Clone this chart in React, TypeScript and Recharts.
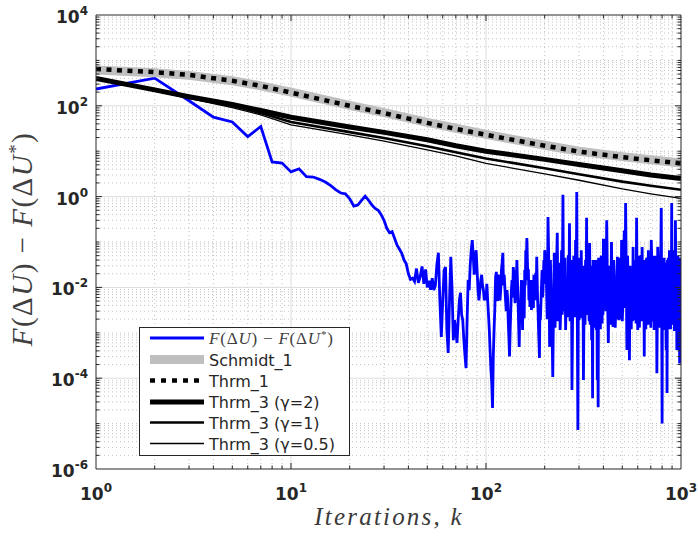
import React from 'react';
import { LineChart, Line, XAxis, YAxis, CartesianGrid, ReferenceLine } from 'recharts';

// ---------- categories / tick labels ----------
const xTicks = [1, 10, 100, 1000];
const yTicks = [1e-6, 1e-4, 1e-2, 1, 1e2, 1e4];
const legendLabels = ['F(ΔU) − F(ΔU*)', 'Schmidt_1', 'Thrm_1', 'Thrm_3 (γ=2)', 'Thrm_3 (γ=1)', 'Thrm_3 (γ=0.5)'];

// ---------- smooth bound curves ----------
const smoothK = [1, 2, 3, 5, 7, 10, 20, 30, 50, 70, 100, 200, 300, 500, 700, 1000];
const schmidt1 = [617, 537, 468, 355, 275, 200, 102, 71, 43, 32, 23.4, 13.5, 10, 7.6, 6.5, 5.5];
const thrm1 = [646, 550, 479, 355, 275, 195, 100, 69, 42, 31, 23, 13.2, 9.8, 7.4, 6.3, 5.4];
const thrm3g2 = [398, 224, 158, 107, 79, 56, 34, 26, 17.8, 13.2, 10, 6.6, 5.1, 3.7, 3.0, 2.5];
const thrm3g1 = [398, 219, 151, 100, 69, 44, 26.3, 19.5, 12.9, 9.5, 6.9, 4.2, 3.1, 2.14, 1.74, 1.41];
const thrm3g05 = [398, 214, 145, 91, 63, 38, 23, 16.6, 10.7, 7.9, 5.4, 3.16, 2.29, 1.48, 1.15, 0.91];

// ---------- F(ΔU) − F(ΔU*) (blue) ----------
// k = 1..56
const blueEarly = [
  234, 407, 129, 56, 44, 21, 35, 5.8, 5.5, 3.5,
  4.1, 2.75, 2.7, 2.4, 2.1, 1.74, 1.41, 1.2, 1.15, 0.89,
  0.62, 0.65, 0.83, 1.02, 0.83, 0.65, 0.55, 0.5, 0.4, 0.3,
  0.2, 0.16, 0.17, 0.12, 0.085, 0.069, 0.056, 0.04, 0.033, 0.02,
  0.015, 0.016, 0.0135, 0.026, 0.0126, 0.0174, 0.029, 0.012, 0.025, 0.01,
  0.014, 0.0089, 0.016, 0.0087, 0.011, 0.032,
];
// k = 57..100 step 1
const blueSegA = [
  0.058, 0.0052, 0.00081, 0.0052, 0.024, 0.028, 0.00115, 0.00036, 0.0052, 0.047,
  0.0087, 0.00069, 0.0019, 0.00115, 0.0006, 0.0019, 0.0052, 0.0076, 0.0025, 0.0019,
  0.00069, 0.00032, 0.000166, 0.0019, 0.0145, 0.0087, 0.031, 0.066, 0.11, 0.051,
  0.019, 0.04, 0.066, 0.024, 0.0087, 0.0052, 0.0087, 0.0145, 0.019, 0.011,
  0.0087, 0.0052, 0.0068, 0.0052,
];
// k = 102..200 step 2
const blueSegB = [
  0.0052, 0.00115, 0.000151, 2.2e-5, 0.00115, 0.017, 0.0087, 0.0145, 0.0052, 0.024,
  0.058, 0.019, 0.0052, 0.0087, 0.0019, 0.0003, 0.0032, 0.0145, 0.028, 0.0087,
  0.024, 0.04, 0.0052, 0.00049, 0.0019, 0.0145, 0.00115, 0.0052, 0.024, 0.066,
  0.123, 0.0145, 0.0052, 0.0037, 0.0145, 0.0046, 0.0087, 0.019, 0.0052, 0.021,
  0.047, 0.0052, 0.00115, 0.00028, 0.0019, 0.0076, 0.024, 0.0087, 0.04, 0.066,
];
// k = 101..199 step 2
const blueSegB2 = [
  0.012, 0.0025, 0.0004, 0.00008, 0.0003, 0.0035, 0.022, 0.005, 0.019, 0.009,
  0.035, 0.011, 0.0095, 0.003, 0.006, 0.0008, 0.0011, 0.009, 0.006, 0.018,
  0.0045, 0.012, 0.014, 0.0015, 0.0032, 0.0055, 0.0048, 0.014, 0.0021, 0.011,
  0.03, 0.04, 0.025, 0.012, 0.0075, 0.0032, 0.013, 0.0035, 0.0065, 0.011,
  0.0065, 0.015, 0.0028, 0.0006, 0.0042, 0.0035, 0.014, 0.006, 0.017, 0.012,
];
// k = 204..400 step 4
const blueSegC = [
  0.0145, 0.355, 0.00049, 0.0052, 0.000107, 0.058, 0.0087, 0.16, 0.0052, 0.00115,
  0.066, 1.1, 0.0052, 0.00115, 0.0145, 0.051, 0.26, 0.0052, 5.5e-5, 0.0052,
  0.0145, 0.11, 1.26, 7.2e-6, 0.0019, 0.024, 0.066, 0.0052, 9.1e-5, 0.0087,
  0.04, 0.34, 0.0028, 0.0145, 0.095, 0.0052, 0.00069, 3.6e-5, 0.0052, 0.04,
  0.0087, 0.00115, 9.1e-5, 2.3e-5, 0.0019, 0.0087, 0.024, 0.0032, 0.04, 0.11,
];
// k = 206..398 step 4
const blueSegC2 = [
  0.002, 0.03, 0.04, 0.0015, 0.004, 0.0013, 0.03, 0.0018, 0.035, 0.004,
  0.0025, 0.003, 0.045, 0.006, 0.0022, 0.006, 0.0018, 0.04, 0.002, 0.05,
  0.0022, 0.004, 0.0015, 0.035, 0.045, 0.003, 0.0021, 0.03, 0.0021, 0.0015,
  0.003, 0.0025, 0.05, 0.0018, 0.0015, 0.03, 0.02, 0.04, 0.0013, 0.0025,
  0.04, 0.03, 0.0035, 0.045, 0.035, 0.0012, 0.05, 0.0016, 0.0025,
];
// k = 408..1000 step 8
const blueSegD = [
  0.11, 0.3, 0.0006, 0.0087, 0.1, 0.00135, 0.0145, 0.0052, 0.047, 0.0019,
  0.0037, 0.11, 0.0052, 0.18, 0.72, 0.00042, 0.0145, 0.00025, 0.0032, 0.024,
  0.078, 0.0019, 0.04, 0.34, 0.00115, 0.024, 0.0052, 0.051, 0.078, 0.0032,
  0.0003, 0.0087, 0.04, 0.0019, 0.066, 0.0052, 0.024, 0.11, 0.0019, 0.0145,
  0.00115, 0.04, 0.0032, 0.000129, 0.078, 0.0052, 0.04, 0.0019, 0.56, 1.0e-5,
  0.0052, 0.04, 0.00115, 0.0145, 0.00042, 4.7e-5, 0.0087, 0.0019, 0.066, 0.0052,
  0.04, 0.72, 0.0145, 0.0019, 0.066, 0.0087, 0.3, 0.0032, 0.00042, 0.0145,
  0.00115, 0.04, 0.00021, 0.0052, 0.021,
];
// k = 412..996 step 8
const blueSegD2 = [
  0.003, 0.006, 0.03, 0.0015, 0.004, 0.04, 0.0013, 0.002, 0.03, 0.045,
  0.002, 0.0018, 0.045, 0.0035, 0.02, 0.05, 0.002, 0.03, 0.0012, 0.0018,
  0.004, 0.035, 0.0016, 0.006, 0.05, 0.0013, 0.045, 0.0018, 0.0025, 0.04,
  0.035, 0.0012, 0.045, 0.0015, 0.0016, 0.0028, 0.0013, 0.04, 0.0018, 0.05,
  0.0021, 0.045, 0.05, 0.0022, 0.035, 0.0013, 0.03, 0.05, 0.004, 0.04,
  0.0012, 0.045, 0.035, 0.0025, 0.03, 0.04, 0.045, 0.0012, 0.0015, 0.0012,
  0.0025, 0.0035, 0.045, 0.0015, 0.0011, 0.0025, 0.05, 0.035, 0.04, 0.05,
  0.0013, 0.035, 0.045, 0.0012,
];

// ---------- helpers ----------
const range = (a: number, b: number, s: number) => {
  const r: number[] = [];
  for (let v = a; v <= b; v += s) r.push(v);
  return r;
};
const zip = (ks: number[], vs: number[]) =>
  ks.slice(0, Math.min(ks.length, vs.length)).map((k, i) => ({ k, v: vs[i] }));

const blueData = [
  ...zip(range(1, 56, 1), blueEarly),
  ...zip(range(57, 100, 1), blueSegA),
  ...zip(range(102, 200, 2), blueSegB),
  ...zip(range(101, 199, 2), blueSegB2),
  ...zip(range(204, 400, 4), blueSegC),
  ...zip(range(206, 398, 4), blueSegC2),
  ...zip(range(408, 1000, 8), blueSegD),
  ...zip(range(412, 996, 8), blueSegD2),
].sort((a, b) => a.k - b.k);
const schmidtData = zip(smoothK, schmidt1);
const thrm1Data = zip(smoothK, thrm1);
const g2Data = zip(smoothK, thrm3g2);
const g1Data = zip(smoothK, thrm3g1);
const g05Data = zip(smoothK, thrm3g05);

// grid positions
const xMinor: number[] = [];
[1, 10, 100].forEach((d) => { for (let m = 2; m <= 9; m++) xMinor.push(d * m); });
const xMajor = [10, 100];
const yMajor = [1e-4, 1e-2, 1, 1e2];
const yMinor: number[] = [];
for (let e = -6; e <= 3; e++) {
  for (let m = 1; m <= 9; m++) {
    if (m === 1 && e % 2 === 0) continue;
    yMinor.push(Number((m * Math.pow(10, e)).toPrecision(2)));
  }
}

const AX = '#262626';
const TICKFONT = "'DejaVu Sans', sans-serif";
const SERIF = "'Liberation Serif', 'Times New Roman', Times, serif";

const XTick = (props: any) => {
  const { x, y, payload } = props;
  const e = Math.round(Math.log10(payload.value));
  return (
    <text x={x} y={y + 31} textAnchor="middle" fontFamily={TICKFONT} fontWeight="bold" fontSize={17} fill={AX}>
      10<tspan dy={-8} fontSize={12}>{e}</tspan>
    </text>
  );
};
const YTick = (props: any) => {
  const { x, y, payload } = props;
  const e = Math.round(Math.log10(payload.value));
  return (
    <text x={x} y={y + 8} textAnchor="end" fontFamily={TICKFONT} fontWeight="bold" fontSize={17} fill={AX}>
      10<tspan dy={-8} fontSize={12}>{e}</tspan>
    </text>
  );
};

// inward tick marks (lengths in px converted to decades)
const PXX = 195; // px per decade x
const PXY = 45.4; // px per decade y
const tickSegsX = (vals: number[], len: number) =>
  vals.flatMap((v) => [
    [{ x: v, y: 1e-6 }, { x: v, y: 1e-6 * Math.pow(10, len / PXY) }],
    [{ x: v, y: 1e4 }, { x: v, y: 1e4 / Math.pow(10, len / PXY) }],
  ]);
const tickSegsY = (vals: number[], len: number) =>
  vals.flatMap((v) => [
    [{ x: 1, y: v }, { x: Math.pow(10, len / PXX), y: v }],
    [{ x: 1000, y: v }, { x: 1000 / Math.pow(10, len / PXX), y: v }],
  ]);
const tickSegs = [
  ...tickSegsX(xMajor, 6),
  ...tickSegsX(xMinor, 3.5),
  ...tickSegsY(yMajor, 6),
  ...tickSegsY(yMinor, 3.5),
];

const MathLabel = ({ star }: { star: number }) => (
  <>
    <tspan fontStyle="italic">F</tspan>
    <tspan>(Δ</tspan>
    <tspan fontStyle="italic">U</tspan>
    <tspan>) − </tspan>
    <tspan fontStyle="italic">F</tspan>
    <tspan>(Δ</tspan>
    <tspan fontStyle="italic">U</tspan>
    <tspan dy={-star} fontSize="65%">*</tspan>
    <tspan dy={star}>)</tspan>
  </>
);

const legendRows = [338, 359.5, 380.5, 402, 422.5, 443.5];

export default function App() {
  return (
    <div style={{ position: 'relative', width: 698, height: 540, background: '#fff' }}>
      <style>{`body{margin:0;background:#fff}`}</style>
      <LineChart width={698} height={540} margin={{ top: 15, right: 17, left: 6, bottom: 31 }}>
        <CartesianGrid stroke="#c2c2c2" strokeDasharray="1 3" verticalValues={xMinor} horizontalValues={yMinor} />
        <CartesianGrid stroke="#dcdcdc" verticalValues={xMajor} horizontalValues={yMajor} />
        <XAxis
          type="number"
          dataKey="k"
          scale="log"
          domain={[1, 1000]}
          ticks={xTicks}
          interval={0}
          allowDataOverflow
          height={40}
          tickSize={0}
          tickMargin={0}
          tickLine={false}
          axisLine={{ stroke: AX }}
          tick={<XTick />}
        />
        <YAxis
          type="number"
          dataKey="v"
          scale="log"
          domain={[1e-6, 1e4]}
          ticks={yTicks}
          interval={0}
          allowDataOverflow
          width={90}
          tickSize={0}
          tickMargin={8}
          tickLine={false}
          axisLine={{ stroke: AX }}
          tick={<YTick />}
        />
        <Line data={blueData} dataKey="v" type="linear" stroke="#0000ff" strokeWidth={2.8} dot={false} isAnimationActive={false} />
        <Line data={schmidtData} dataKey="v" type="linear" stroke="#bfbfbf" strokeWidth={9} dot={false} isAnimationActive={false} />
        <Line data={thrm1Data} dataKey="v" type="linear" stroke="#000" strokeWidth={4.5} strokeDasharray="5 5.5" dot={false} isAnimationActive={false} />
        <Line data={g2Data} dataKey="v" type="linear" stroke="#000" strokeWidth={5} dot={false} isAnimationActive={false} />
        <Line data={g1Data} dataKey="v" type="linear" stroke="#000" strokeWidth={2.6} dot={false} isAnimationActive={false} />
        <Line data={g05Data} dataKey="v" type="linear" stroke="#000" strokeWidth={1.3} dot={false} isAnimationActive={false} />
        {tickSegs.map((s, i) => (
          <ReferenceLine key={'t' + i} segment={s} stroke={AX} strokeWidth={1} ifOverflow="extendDomain" />
        ))}
        <ReferenceLine x={1000} stroke={AX} />
        <ReferenceLine y={1e4} stroke={AX} />
      </LineChart>

      <svg width={698} height={540} style={{ position: 'absolute', left: 0, top: 0, pointerEvents: 'none' }}>
        {/* axis labels */}
        <text x={389} y={525} textAnchor="middle" fontFamily={SERIF} fontStyle="italic" fontSize={25} letterSpacing={2.2} fill="#3a3a3a">
          Iterations, k
        </text>
        <text transform="translate(32,239) rotate(-90)" textAnchor="middle" fontFamily={SERIF} fontSize={29} letterSpacing={1.5} fill="#404040">
          <MathLabel star={10} />
        </text>

        {/* legend */}
        <rect x={139.5} y={327.5} width={210} height={128} fill="#fff" stroke={AX} strokeWidth={1} />
        <line x1={150} x2={204} y1={legendRows[0]} y2={legendRows[0]} stroke="#0000ff" strokeWidth={3} />
        <line x1={150} x2={204} y1={legendRows[1]} y2={legendRows[1]} stroke="#bfbfbf" strokeWidth={9} />
        <line x1={150} x2={204} y1={legendRows[2]} y2={legendRows[2]} stroke="#000" strokeWidth={4.5} strokeDasharray="5 6" />
        <line x1={150} x2={204} y1={legendRows[3]} y2={legendRows[3]} stroke="#000" strokeWidth={5} />
        <line x1={150} x2={204} y1={legendRows[4]} y2={legendRows[4]} stroke="#000" strokeWidth={2.6} />
        <line x1={150} x2={204} y1={legendRows[5]} y2={legendRows[5]} stroke="#000" strokeWidth={1.3} />
        <text x={209} y={legendRows[0] + 6} fontFamily={SERIF} fontSize={17} letterSpacing={0.8} fill="#404040">
          <MathLabel star={6} />
        </text>
        {legendLabels.slice(1).map((t, i) => (
          <text key={t} x={209} y={legendRows[i + 1] + 6} fontFamily={TICKFONT} fontSize={16} fill={AX}>
            {t}
          </text>
        ))}
      </svg>
    </div>
  );
}
